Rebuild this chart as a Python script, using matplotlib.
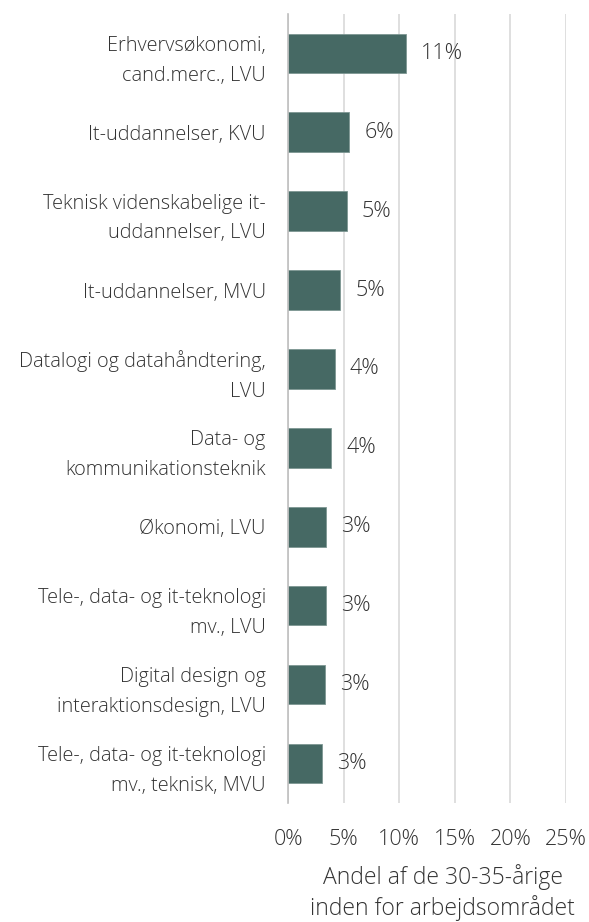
import matplotlib
matplotlib.use("Agg")
import matplotlib.pyplot as plt
from matplotlib.ticker import FuncFormatter

categories = [
    "Erhvervsøkonomi,\ncand.merc., LVU",
    "It-uddannelser, KVU",
    "Teknisk videnskabelige it-\nuddannelser, LVU",
    "It-uddannelser, MVU",
    "Datalogi og datahåndtering,\nLVU",
    "Data- og\nkommunikationsteknik",
    "Økonomi, LVU",
    "Tele-, data- og it-teknologi\nmv., LVU",
    "Digital design og\ninteraktionsdesign, LVU",
    "Tele-, data- og it-teknologi\nmv., teknisk, MVU",
]
shares = [10.6, 5.5, 5.3, 4.7, 4.2, 3.9, 3.4, 3.4, 3.3, 3.1]
xticks = [0, 5, 10, 15, 20, 25]

plt.rcParams["font.family"] = ["Open Sans", "DejaVu Sans"]
TXT = "#333333"

fig = plt.figure(figsize=(5.89, 9.22), dpi=100)
ax = fig.add_axes([0.489, 0.129, 0.472, 0.856])

ypos = list(range(len(categories)))
bars = ax.barh(ypos, shares, height=0.5, color="#466964", edgecolor="#7d9793", linewidth=0.6, zorder=3)
for bar, v in zip(bars, shares):
    ax.text(bar.get_width() + 1.35, bar.get_y() + bar.get_height() / 2, f"{round(v):.0f}%",
            va="center", ha="left", fontsize=15.5, color=TXT, fontweight="light")

ax.set_ylim(len(categories) - 0.5, -0.5)
ax.set_xlim(0, 25)
ax.set_yticks(ypos)
ax.set_yticklabels(categories, fontsize=14.3, color=TXT, fontweight="light", linespacing=1.65)
ax.set_xticks(xticks)
ax.xaxis.set_major_formatter(FuncFormatter(lambda x, p: f"{x:.0f}%"))
for lab in ax.get_xticklabels():
    lab.set_fontsize(15.5)
    lab.set_color(TXT)
    lab.set_fontweight("light")
ax.tick_params(axis="both", length=0)
ax.tick_params(axis="x", pad=19)
ax.tick_params(axis="y", pad=16)

ax.grid(axis="x", color="#d9d9d9", linewidth=1.2, zorder=0)
for s in ["top", "right", "bottom"]:
    ax.spines[s].set_visible(False)
ax.spines["left"].set_color("#bfbfbf")
ax.spines["left"].set_linewidth(1.2)
ax.spines["left"].set_zorder(4)

ax.set_xlabel("Andel af de 30-35-årige\ninden for arbejdsområdet", fontsize=16.5, color=TXT,
              fontweight="light", labelpad=10, linespacing=1.22, x=0.556)

fig.savefig("out.png", dpi=100)
